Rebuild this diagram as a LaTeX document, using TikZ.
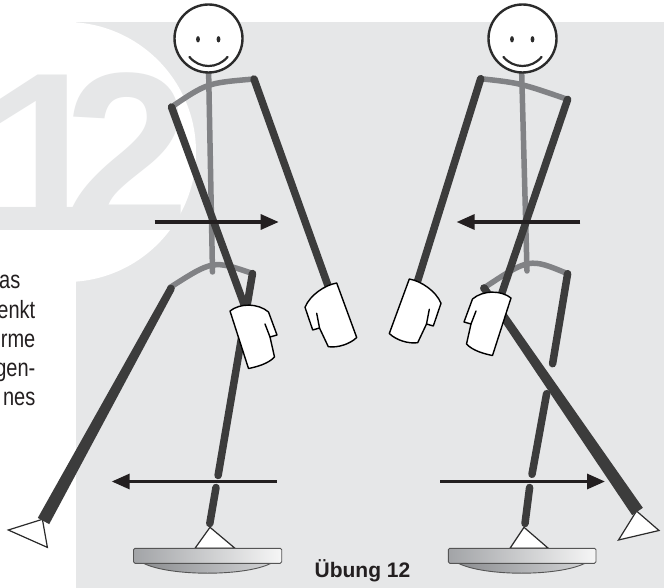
\documentclass[tikz,border=0pt]{standalone}
\usepackage{fontspec}
\setmainfont{Liberation Sans}
\newfontfamily\sidefont[FakeStretch=0.8]{Liberation Sans}
\usetikzlibrary{arrows.meta,calc}

\definecolor{panel}{HTML}{E6E7E8}
\definecolor{limb}{HTML}{3C3C3C}
\definecolor{torso}{HTML}{818285}
\definecolor{ink}{HTML}{231F20}
\definecolor{outline}{HTML}{2B2B2B}
\definecolor{boardL}{HTML}{A2A4A7}
\definecolor{boardR}{HTML}{F6F6F6}
\definecolor{lensL}{HTML}{8C8E91}
\definecolor{lensR}{HTML}{D2D3D5}

\tikzset{
  limbline/.style={draw=limb, line width=7.5pt, line cap=round},
  torsoline/.style={draw=torso, line width=5.5pt, line cap=round},
  motion/.style={draw=ink, line width=3.2pt, -{Triangle[length=18pt,width=15pt]}},
  headring/.style={draw=outline, line width=2.4pt, fill=white},
  footwedge/.style={draw=outline, line width=1.2pt, fill=white, line join=miter},
  glove/.style={draw=black, line width=1.4pt, fill=white, line join=round},
  board/.style={draw=outline!80, line width=0.9pt, rounded corners=1.5pt, left color=boardL, right color=boardR},
  lens/.style={draw=outline!80, line width=0.9pt, left color=lensL, right color=lensR},
  sidetext/.style={inner sep=0pt, text=ink, font=\sidefont\fontsize{25}{25}\selectfont},
  face/.pic={
    \draw[headring] (0,0) circle[radius=34pt];
    \fill[outline] (-10.5,0.8) ellipse[x radius=1.9pt, y radius=3.2pt];
    \fill[outline] (10,0.8) ellipse[x radius=1.9pt, y radius=3.2pt];
    \draw[outline, line width=2.2pt, line cap=round]
      (-19,18.5) .. controls (-9,30.5) and (9,30.5) .. (19,18.5);
  },
  frontglove/.pic={
    \draw[glove] (-20,6) .. controls (-10,-2) and (8,-2) .. (18.5,7)
      -- (27,30) -- (20,32) -- (24.5,52)
      .. controls (18,59) and (6,62) .. (-1.5,63.5) -- cycle;
    \draw[glove, fill=none, line cap=round] (15,19) -- (20,32);
  },
  backglove/.pic={
    \draw[glove] (-25,7.3) .. controls (-20,-5) and (-5,-15) .. (6.7,-17)
      -- (26.7,37.5) .. controls (20,44) and (8,48) .. (-1.7,46.7)
      -- (-10.5,28) -- (-17.3,30) -- cycle;
    \draw[glove, fill=none, line cap=round] (-13.3,13.3) -- (-10.5,28);
  },
}

\begin{document}
\begin{tikzpicture}[x=1pt,y=-1pt]
\path[use as bounding box] (0,0) rectangle (664,588);
\clip (0,0) rectangle (664,588);
\fill[white] (0,0) rectangle (664,588);

% grey panel, white disc and the big exercise number
\fill[panel] (76,22) rectangle (664,588);
\fill[white] (66,152) circle[radius=130pt];
\node[anchor=base east, inner sep=0pt, text=panel,
      font=\bfseries\fontsize{226}{226}\selectfont] (num) at (190,230) {1\kern-44.6pt 2};

% end of the neighbouring text column
\node[sidetext, anchor=base east] (t1) at (20.5,288.5) {as};
\node[sidetext, anchor=base east] (t2) at (35.5,318) {enkt};
\node[sidetext, anchor=base east] (t3) at (35.5,347) {rme};
\node[sidetext, anchor=base east] (t4) at (35.5,376) {gen-};
\node[sidetext, anchor=base east] (t5) at (35.5,405) {nes};

% ---------------- left figure ----------------
\coordinate (Lneck) at (208.5,66);
\coordinate (Lpelvis) at (212.5,272);
\coordinate (LshL) at (171.5,107);
\coordinate (LshR) at (254,79);
\coordinate (LhipL) at (170,287.5);
\coordinate (LhipR) at (252.5,273.5);
\coordinate (LhandF) at (245,307);
\coordinate (LhandB) at (328.5,287);
\coordinate (LkneeA) at (218.1,475.5);
\coordinate (LkneeB) at (216,487.5);
\coordinate (Lankle) at (209.8,523.5);
\coordinate (LlegA) at (171,288.5);
\coordinate (LlegB) at (43.5,521);

\draw[torsoline] (Lneck) -- (Lpelvis);
\draw[torsoline] (LshL) .. controls (207,83) .. (LshR);
\draw[torsoline] (LhipL) .. controls (213,260) .. (LhipR);
\pic at (208.5,38.5) {face};

% feet
\draw[footwedge] (8.3,530) -- (42.4,519.3) -- (47.4,547.4) -- cycle;
\draw[footwedge] (210,527.3) -- (235,548.3) -- (195,548.3) -- cycle;

% legs
\fill[limb] ($(LlegA)!3.8pt!90:(LlegB)$) -- ($(LlegB)!6.5pt!-90:(LlegA)$)
  -- ($(LlegB)!6.5pt!90:(LlegA)$) -- ($(LlegA)!3.8pt!-90:(LlegB)$) -- cycle;
\fill[limb] (LlegA) circle[radius=3.8pt];
\draw[limbline] (LhipR) -- (LkneeA);
\draw[limbline] (LkneeB) -- (Lankle);

% arms
\draw[limbline] (LshL) -- (LhandF);
\draw[limbline] (LshR) -- (LhandB);

% balance board
\draw[lens] (143.5,563.3) .. controls (170,576.5) and (245,576.5) .. (271,563.3) -- cycle;
\draw[board] (133.5,548.3) rectangle (281.7,563.3);

% hands
\pic at (250,305) {frontglove};
\pic at (330,300) {backglove};

% ---------------- right figure ----------------
\coordinate (Rneck) at (521.5,66);
\coordinate (Rpelvis) at (527,271);
\coordinate (RshL) at (480.7,78.7);
\coordinate (RshR) at (567.6,99.4);
\coordinate (RhipL) at (482.8,288.7);
\coordinate (RhipR) at (567.6,273.7);
\coordinate (RhandA) at (417,283);
\coordinate (RhandB) at (499.5,300);
\coordinate (RthighA) at (552.6,363.7);
\coordinate (RshinA) at (546.6,393.7);
\coordinate (RkneeA) at (532,474.3);
\coordinate (RkneeB) at (529.6,487.5);
\coordinate (Rankle) at (525,523.5);
\coordinate (RlegA) at (484,288);
\coordinate (RlegB) at (637.5,511.5);

\draw[torsoline] (Rneck) -- (Rpelvis);
\draw[torsoline] (RshL) .. controls (519.9,83) .. (RshR);
\draw[torsoline] (RhipL) .. controls (529.4,257.8) .. (RhipR);
\pic at (522.5,38.5) {face};

% feet
\draw[footwedge] (636.5,511) -- (659,530.5) -- (618.5,540) -- cycle;
\draw[footwedge] (524,527.3) -- (548.3,548.3) -- (510,548.3) -- cycle;

% legs
\draw[limbline] (RhipR) -- (RthighA);
\draw[limbline] (RshinA) -- (RkneeA);
\draw[limbline] (RkneeB) -- (Rankle);
\fill[limb] ($(RlegA)!3.8pt!90:(RlegB)$) -- ($(RlegB)!6.5pt!-90:(RlegA)$)
  -- ($(RlegB)!6.5pt!90:(RlegA)$) -- ($(RlegA)!3.8pt!-90:(RlegB)$) -- cycle;
\fill[limb] (RlegA) circle[radius=3.8pt];

% arms
\draw[limbline] (RshL) -- (RhandA);
\draw[limbline] (RshR) -- (RhandB);

% balance board
\draw[lens] (458.3,563.3) .. controls (485,576.5) and (558,576.5) .. (585,563.3) -- cycle;
\draw[board] (448.3,548.3) rectangle (596,563.3);

% hands
\pic[xscale=-1] at (416,296) {backglove};
\pic[xscale=-1] at (491,292) {frontglove};

% ---------------- motion arrows ----------------
\coordinate (a1s) at (154.6,222); \coordinate (a1e) at (278.7,222);
\coordinate (a2s) at (276.7,481.5); \coordinate (a2e) at (111.7,481.5);
\coordinate (a3s) at (580.3,222); \coordinate (a3e) at (456.6,222);
\coordinate (a4s) at (440.3,481.5); \coordinate (a4e) at (605,481.5);
\draw[motion] (a1s) -- (a1e);
\draw[motion] (a2s) -- (a2e);
\draw[motion] (a3s) -- (a3e);
\draw[motion] (a4s) -- (a4e);

% caption
\node[anchor=base, inner sep=0pt, text=ink,
      font=\bfseries\fontsize{21}{21}\selectfont] (caption) at (362.5,577) {Übung 12};
\end{tikzpicture}
\end{document}
